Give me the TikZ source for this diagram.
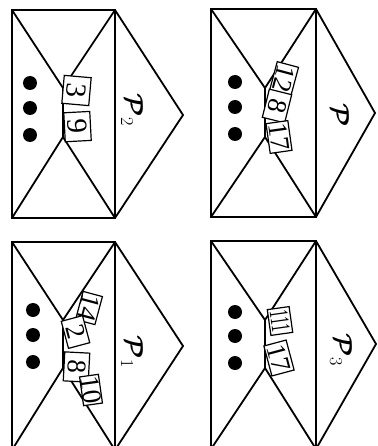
\documentclass[tikz,border=0pt]{standalone}
\usepackage{fix-cm}
\usepackage{bm}
\usepackage{fontspec}
\setmainfont{Liberation Serif}
\tikzset{
  envline/.style={line width=1.8pt, line join=miter},
  card/.style={draw, fill=white, line width=1.2pt, inner sep=0pt, font=\fontsize{27}{27}\selectfont},
  bigcard/.style={card, font=\fontsize{29}{29}\selectfont},
  dotmark/.style={fill=black},
  lab/.style={rotate=-90, inner sep=0pt, font=\fontsize{26}{26}\selectfont}
}
% envelope: L R T B tipX tipY innerX inner1 inner2
\newcommand\myenvelope[9]{%
  \draw[envline] (#1,#3) rectangle (#2,#4);
  \draw[envline] (#2,#3) -- (#5,#6) -- (#2,#4);
  \draw[envline] (#1,#3) -- (#7,#8) -- (#2,#3);
  \draw[envline] (#1,#4) -- (#7,#9) -- (#2,#4);
  \draw[envline] (#7,#8) -- (#7,#9);
}
\begin{document}
\begin{tikzpicture}[x=1pt,y=-1pt]
\useasboundingbox (0,0) rectangle (377,446);
\clip (0,0) rectangle (377,446);
% envelopes
\myenvelope{12}{115}{10}{218}{183}{115}{63}{88}{137}
\myenvelope{211}{316}{9}{217}{375}{113}{265}{88}{137}
\myenvelope{12}{115}{242}{450}{183}{346}{63}{320}{368}
\myenvelope{211}{316}{241}{449}{376}{344}{265}{320}{368}
% dots
\foreach \y in {83,108,135} \fill[dotmark] (30,\y) circle (7);
\foreach \y in {82,107,134} \fill[dotmark] (235,\y) circle (7);
\foreach \y in {310,335,362} \fill[dotmark] (33,\y) circle (7);
\foreach \y in {312,336,363} \fill[dotmark] (235,\y) circle (7);
% cards envelope P2
\node[bigcard, minimum width=28, minimum height=27, rotate=-95] (a3) at (76.5,90.5) {3};
\node[bigcard, minimum width=29, minimum height=26, rotate=-87] (a9) at (77.5,126.6) {9};
% cards envelope P
\node[card, minimum width=30, minimum height=22, rotate=-105] (b12) at (284,79) {12};
\node[card, minimum width=29, minimum height=23, rotate=-104] (b8) at (277,106) {8};
\node[card, minimum width=30, minimum height=22, rotate=-82] (b17) at (279,137) {17};
% cards envelope P1
\node[card, minimum width=29, minimum height=20, rotate=-105] (c14) at (89,308) {14};
\node[card, minimum width=28, minimum height=22, rotate=-75] (c2) at (75.5,332) {2};
\node[card, minimum width=29, minimum height=25, rotate=-93] (c8) at (76.5,367) {8};
\node[card, minimum width=29, minimum height=19, rotate=-82] (c10) at (91,390) {10};
% cards envelope P3
\node[card, minimum width=26, minimum height=22, rotate=-82] (d111) at (280,321) {\scalebox{0.55}[1]{111}};
\node[card, minimum width=31, minimum height=23, rotate=-75] (d17) at (279,358) {17};
% labels
\node[lab] (p2) at (132,110) {$\bm{\mathcal{P}}_2$};
\node[lab] (p0) at (340,115) {$\bm{\mathcal{P}}$};
\node[lab] (p1) at (132,352) {$\bm{\mathcal{P}}_1$};
\node[lab] (p3) at (341,350) {$\bm{\mathcal{P}}_3$};
\end{tikzpicture}
\end{document}
